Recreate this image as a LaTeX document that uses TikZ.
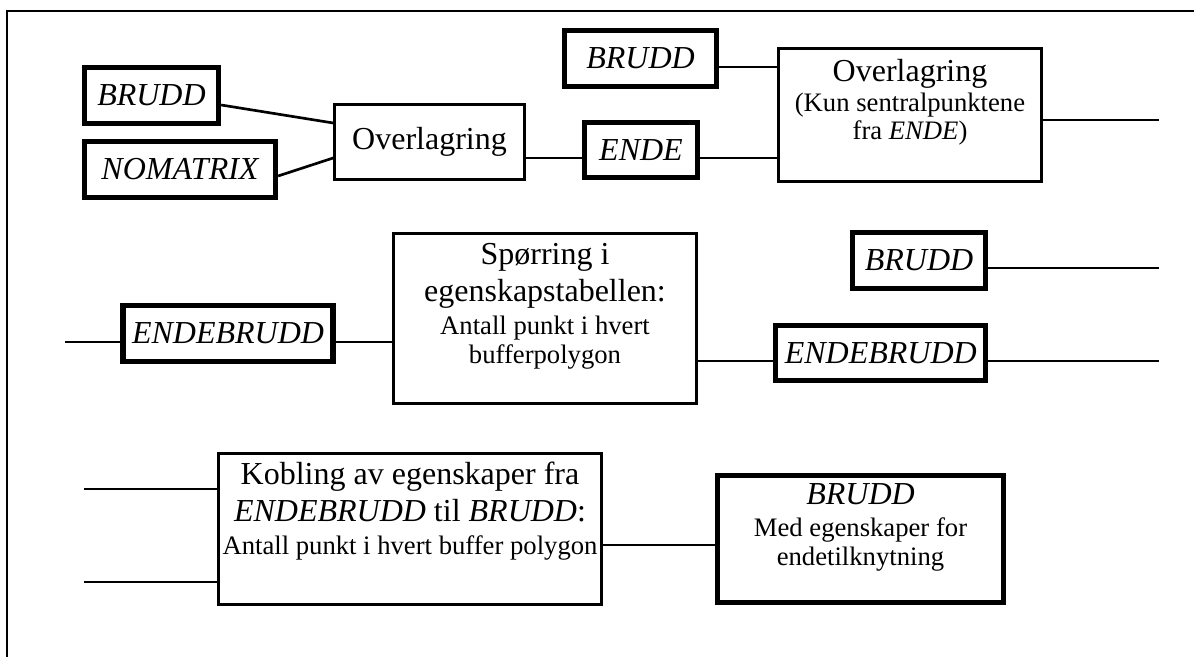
\documentclass[tikz,border=0pt,12pt]{standalone}
\usepackage{fontspec}
\setmainfont{Liberation Serif}
\usepackage{tikz}
\usetikzlibrary{positioning, calc}
\newcommand{\smalltxt}{\fontsize{10}{12}\selectfont}
\tikzstyle{opbox} = [rectangle, draw=black, line width=1pt, inner sep=0pt, text centered, font=\fontsize{12}{13.9}\selectfont]
\tikzstyle{layerbox} = [rectangle, draw=black, line width=2pt, inner sep=0pt, text centered, font=\fontsize{12}{13.9}\selectfont\itshape]
\tikzstyle{link} = [line width=1pt]
\tikzstyle{frameline} = [line width=0.8pt]

\begin{document}
\begin{tikzpicture}[x=0.375pt, y=-0.375pt]
    \useasboundingbox (0,0) rectangle (1194,657);
    % Frame
    \draw[frameline] (1194,11) -- (7,11) -- (7,657);

    % First overlay
    \node[layerbox, minimum width=50.25pt, minimum height=21pt] (brudda) at (151.5,95.5) {BRUDD};
    \node[layerbox, minimum width=71.6pt, minimum height=21pt] (nomatrix) at (180,169.5) {NOMATRIX};
    \node[opbox, minimum width=71.25pt, minimum height=28.1pt] (overlaga) at (429.5,142) {Overlagring};
    \node[layerbox, minimum width=42.4pt, minimum height=20.6pt] (ende) at (641,150) {ENDE};

    % Second overlay
    \node[layerbox, minimum width=57pt, minimum height=21pt] (bruddb) at (640.5,58.5) {BRUDD};
    \node[opbox, minimum width=98.6pt, minimum height=49.9pt] (overlagb) at (910,115) {
        \begin{tabular}{@{}c@{}}
            Overlagring \\[-2.6pt]
            \smalltxt (Kun sentralpunktene \\[-3.4pt]
            \smalltxt fra \textit{ENDE}) \\[8.6pt]
        \end{tabular}
    };

    % Query
    \node[layerbox, minimum width=78.75pt, minimum height=21pt] (endebrudda) at (228,333.5) {ENDEBRUDD};
    \node[opbox, minimum width=113.6pt, minimum height=63.75pt] (sporring) at (545,318.5) {
        \begin{tabular}{@{}c@{}}
            Spørring i \\
            egenskapstabellen: \\[-1.5pt]
            \smalltxt Antall punkt i hvert \\[-3.2pt]
            \smalltxt bufferpolygon \\[9pt]
        \end{tabular}
    };
    \node[layerbox, minimum width=49.9pt, minimum height=21pt] (bruddc) at (919,260.5) {BRUDD};
    \node[layerbox, minimum width=78.75pt, minimum height=20.6pt] (endebruddb) at (880.75,353) {ENDEBRUDD};

    % Join
    \node[opbox, minimum width=143.6pt, minimum height=56.6pt] (kobling) at (410,529) {
        \begin{tabular}{@{}c@{}}
            Kobling av egenskaper fra \\
            \textit{ENDEBRUDD} til \textit{BRUDD}: \\[-1.5pt]
            \smalltxt Antall punkt i hvert buffer polygon \\[12.4pt]
        \end{tabular}
    };
    \node[opbox, line width=2pt, minimum width=107.25pt, minimum height=47.6pt] (bruddd) at (860.5,539) {
        \begin{tabular}{@{}c@{}}
            \textit{BRUDD} \\[-1.9pt]
            \smalltxt Med egenskaper for \\[-3pt]
            \smalltxt endetilknytning \\[8.3pt]
        \end{tabular}
    };

    % Loose ends
    \coordinate (outa) at (1159,120);
    \coordinate (outb) at (1159,268);
    \coordinate (outc) at (1159,361);
    \coordinate (ina) at (65,342);
    \coordinate (inb) at (84,489);
    \coordinate (inc) at (84,582);

    % Links
    \draw[link] ($(brudda.east)+(0,9.5)$) -- ($(overlaga.west)+(0,-19)$);
    \draw[link] ($(nomatrix.east)+(0,6.5)$) -- ($(overlaga.west)+(0,16)$);
    \draw[link] ($(overlaga.east)+(0,16)$) -- ($(ende.west)+(0,8)$);
    \draw[link] ($(ende.east)+(0,8)$) -- ($(overlagb.west)+(0,43)$);
    \draw[link] ($(bruddb.east)+(0,8.5)$) -- ($(overlagb.west)+(0,-48)$);
    \draw[link] ($(overlagb.east)+(0,5)$) -- (outa);
    \draw[link] (ina) -- ($(endebrudda.west)+(0,8.5)$);
    \draw[link] ($(endebrudda.east)+(0,8.5)$) -- ($(sporring.west)+(0,23.5)$);
    \draw[link] ($(sporring.east)+(0,42.5)$) -- ($(endebruddb.west)+(0,8)$);
    \draw[link] ($(endebruddb.east)+(0,8)$) -- (outc);
    \draw[link] ($(bruddc.east)+(0,7.5)$) -- (outb);
    \draw[link] (inb) -- ($(kobling.west)+(0,-40)$);
    \draw[link] (inc) -- ($(kobling.west)+(0,53)$);
    \draw[link] ($(kobling.east)+(0,16)$) -- ($(bruddd.west)+(0,6)$);
\end{tikzpicture}
\end{document}
